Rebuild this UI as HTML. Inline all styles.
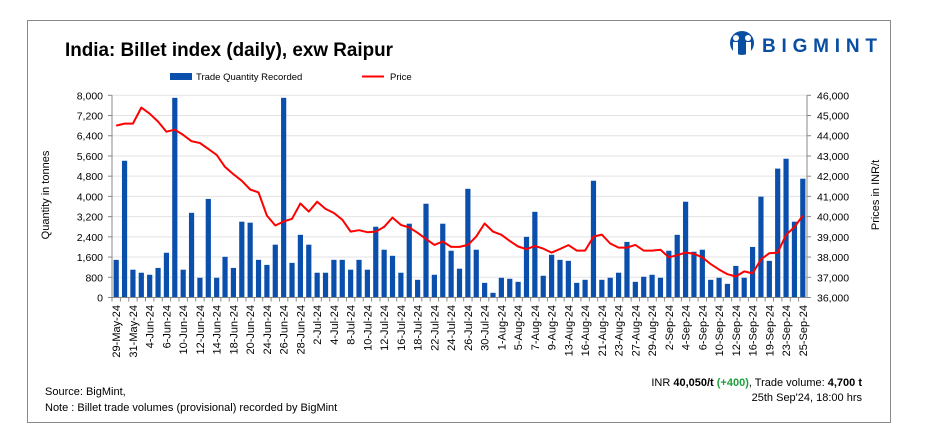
<!DOCTYPE html>
<html><head><meta charset="utf-8">
<style>
body{margin:0;background:#fff;width:933px;height:448px;overflow:hidden;font-family:"Liberation Sans",sans-serif;}
#frame{position:absolute;left:27px;top:20px;width:864px;height:403px;border:1px solid #8a8a8a;box-sizing:border-box;}
svg{position:absolute;left:0;top:0;}
</style></head><body>
<div id="frame"></div>
<svg id="chart" width="933" height="448">
<text x="65" y="56" font-size="19" font-weight="bold" fill="#000" textLength="328" lengthAdjust="spacingAndGlyphs">India: Billet index (daily), exw Raipur</text>
<g>
<circle cx="742" cy="43" r="12" fill="#0a4ea2"/>
<circle cx="736" cy="38" r="3" fill="#fff"/><circle cx="748" cy="38" r="3" fill="#fff"/>
<rect x="733" y="42" width="5" height="14" fill="#fff"/><rect x="746" y="42" width="5" height="14" fill="#fff"/>
<text x="762" y="52" font-size="19" font-weight="bold" fill="#0a4ea2" textLength="115" lengthAdjust="spacing">BIGMINT</text>
</g>
<g>
<rect x="170" y="73" width="22" height="7" fill="#0b4fac"/>
<text x="196" y="80" font-size="9.5" fill="#000">Trade Quantity Recorded</text>
<line x1="362" y1="76.5" x2="384" y2="76.5" stroke="#f00" stroke-width="2"/>
<text x="390" y="80" font-size="9.5" fill="#000">Price</text>
</g>
<g id="grid"></g><g id="bars"></g><g id="axes"></g><g id="line"></g>
<text transform="translate(49,195) rotate(-90)" text-anchor="middle" font-size="11" fill="#000">Quantity in tonnes</text>
<text transform="translate(879,195) rotate(-90)" text-anchor="middle" font-size="11" fill="#000">Prices in INR/t</text>
<text x="45" y="395" font-size="11" fill="#000">Source: BigMint,</text>
<text x="45" y="411" font-size="11" fill="#000">Note : Billet trade volumes (provisional) recorded by BigMint</text>
<text x="862" y="386" text-anchor="end" font-size="11" fill="#000">INR <tspan font-weight="bold">40,050/t</tspan> <tspan fill="#1e9e3a" font-weight="bold">(+400)</tspan>, Trade volume: <tspan font-weight="bold">4,700 t</tspan></text>
<text x="862" y="401" text-anchor="end" font-size="11" fill="#000">25th Sep'24, 18:00 hrs</text>
</svg>
<script>
const labels=["29-May-24","30-May-24","31-May-24","3-Jun-24","4-Jun-24","5-Jun-24","6-Jun-24","7-Jun-24","10-Jun-24","11-Jun-24","12-Jun-24","13-Jun-24","14-Jun-24","17-Jun-24","18-Jun-24","19-Jun-24","20-Jun-24","21-Jun-24","24-Jun-24","25-Jun-24","26-Jun-24","27-Jun-24","28-Jun-24","1-Jul-24","2-Jul-24","3-Jul-24","4-Jul-24","5-Jul-24","8-Jul-24","9-Jul-24","10-Jul-24","11-Jul-24","12-Jul-24","15-Jul-24","16-Jul-24","17-Jul-24","18-Jul-24","19-Jul-24","22-Jul-24","23-Jul-24","24-Jul-24","25-Jul-24","26-Jul-24","29-Jul-24","30-Jul-24","31-Jul-24","1-Aug-24","2-Aug-24","5-Aug-24","6-Aug-24","7-Aug-24","8-Aug-24","9-Aug-24","12-Aug-24","13-Aug-24","14-Aug-24","16-Aug-24","20-Aug-24","21-Aug-24","22-Aug-24","23-Aug-24","26-Aug-24","27-Aug-24","28-Aug-24","29-Aug-24","30-Aug-24","2-Sep-24","3-Sep-24","4-Sep-24","5-Sep-24","6-Sep-24","9-Sep-24","10-Sep-24","11-Sep-24","12-Sep-24","13-Sep-24","16-Sep-24","18-Sep-24","19-Sep-24","20-Sep-24","23-Sep-24","24-Sep-24","25-Sep-24"];
const quantity=[1490,5410,1100,980,900,1170,1770,7900,1100,3350,780,3900,780,1610,1170,3000,2960,1490,1290,2090,7900,1370,2480,2090,980,980,1490,1490,1100,1490,1100,2800,1890,1650,980,2920,700,3710,900,2920,1850,1140,4300,1890,580,185,780,740,620,2400,3390,860,1690,1490,1450,580,700,4620,700,780,980,2200,620,820,900,780,1850,2480,3790,1810,1890,700,780,540,1250,780,2000,3990,1450,5100,5490,3000,4700];
const price=[44500,44600,44600,45390,45090,44700,44200,44300,44040,43730,43640,43350,43050,42460,42100,41770,41340,41200,40050,39560,39760,39890,40650,40250,40740,40380,40180,39850,39260,39330,39230,39260,39490,39950,39590,39460,39200,38900,38600,38770,38500,38500,38600,39010,39660,39260,39100,38800,38520,38390,38550,38420,38220,38400,38590,38320,38320,39010,39110,38670,38470,38470,38600,38320,38320,38360,37990,38090,38220,38160,37990,37650,37380,37150,37040,37290,37190,37880,38190,38220,39100,39480,40050];
const leftTicks=[0,800,1600,2400,3200,4000,4800,5600,6400,7200,8000];
const rightTicks=[36000,37000,38000,39000,40000,41000,42000,43000,44000,45000,46000];
const NS="http://www.w3.org/2000/svg";
const X0=112,X1=807,Y0=297.5,Y1=95.3;
const band=(X1-X0)/labels.length;
const xc=i=>X0+band*(i+0.5);
const yL=v=>Y0-(v/8000)*(Y0-Y1);
const yR=v=>Y0-((v-36000)/10000)*(Y0-Y1);
function mk(tag,attrs,parent){const e=document.createElementNS(NS,tag);for(const k in attrs)e.setAttribute(k,attrs[k]);parent.appendChild(e);return e;}
const grid=document.getElementById('grid'),bars=document.getElementById('bars'),axes=document.getElementById('axes'),lineG=document.getElementById('line');
leftTicks.forEach((t,i)=>{
  const y=yL(t);
  if(i>0){const g=mk('line',{x1:X0,x2:X1,y1:y,y2:y,stroke:'#e3e3e3','stroke-width':1},grid);
  
  }
  const tx=mk('text',{x:103,y:y+4,'text-anchor':'end','font-size':10.5,fill:'#000'},axes);
  tx.textContent=t.toLocaleString('en-US');
  
  
  mk('line',{x1:X0-4,x2:X0,y1:y,y2:y,stroke:'#888'},axes);
});
rightTicks.forEach(t=>{
  const y=yR(t);
  const tx=mk('text',{x:817,y:y+4,'font-size':10.5,fill:'#000'},axes);
  tx.textContent=t.toLocaleString('en-US');
  
  
  mk('line',{x1:X1,x2:X1+4,y1:y,y2:y,stroke:'#888'},axes);
});
mk('line',{x1:X0,x2:X0,y1:Y1,y2:Y0,stroke:'#888'},axes);
mk('line',{x1:X1,x2:X1,y1:Y1,y2:Y0,stroke:'#888'},axes);
mk('line',{x1:X0,x2:X1,y1:Y0,y2:Y0,stroke:'#888'},axes);
quantity.forEach((v,i)=>{
  const b=mk('rect',{x:xc(i)-2.6,y:yL(v),width:5.2,height:Y0-yL(v),fill:'#0b4fac'},bars);
  
  
  mk('line',{x1:X0+band*i,x2:X0+band*i,y1:Y0,y2:Y0+4,stroke:'#888'},axes);
  if(i%2===0){
    const tx=mk('text',{transform:`translate(${xc(i)+4},305) rotate(-90)`,'text-anchor':'end','font-size':11,fill:'#000'},axes);
    tx.textContent=labels[i];
    
    
  }
});
const pts=price.map((v,i)=>xc(i).toFixed(1)+','+yR(v).toFixed(1)).join(' ');
const pl=mk('polyline',{points:pts,fill:'none',stroke:'#f00','stroke-width':2,'stroke-linejoin':'round'},lineG);


</script>
</body></html>
